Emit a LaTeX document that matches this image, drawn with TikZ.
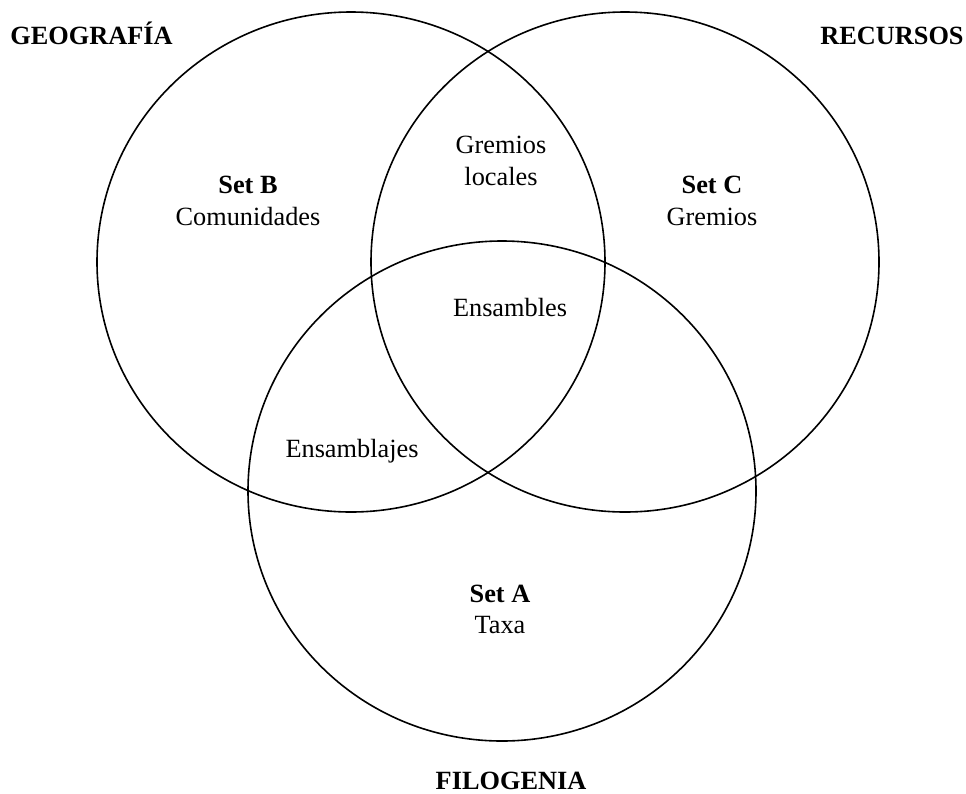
\documentclass[tikz,border=0pt]{standalone}
\usepackage{fontspec}
\setmainfont{Liberation Serif}
\begin{document}
\begin{tikzpicture}[x=1pt,y=-1pt,
  setcircle/.style={draw=black,line width=1.6pt},
  lbl/.style={inner sep=0pt,anchor=base,font=\fontsize{26.3}{31}\selectfont},
  blbl/.style={lbl,font=\fontsize{26.3}{31}\selectfont\bfseries}]
\useasboundingbox (0,0) rectangle (966,793);
\draw[setcircle] (351,262) ellipse [x radius=254, y radius=250];
\draw[setcircle] (625,262) ellipse [x radius=254, y radius=250];
\draw[setcircle] (502,491) ellipse [x radius=254, y radius=250];
\node[blbl] (geo) at (91.5,44) {GEOGRAFÍA};
\node[blbl] (rec) at (892,44) {RECURSOS};
\node[blbl] (fil) at (511,789) {FILOGENIA};
\node[blbl] (setb) at (248,193) {Set B};
\node[lbl] (com) at (248,225.6) {Comunidades};
\node[blbl] (setc) at (712,193) {Set C};
\node[lbl] (gre) at (712,225.6) {Gremios};
\node[lbl] (grl1) at (501,153) {Gremios};
\node[lbl] (grl2) at (501,185) {locales};
\node[lbl] (ens) at (510,316.7) {Ensambles};
\node[lbl] (ensj) at (352,457) {Ensamblajes};
\node[blbl] (seta) at (500,602) {Set A};
\node[lbl] (tax) at (500,633) {Taxa};
\end{tikzpicture}
\end{document}
